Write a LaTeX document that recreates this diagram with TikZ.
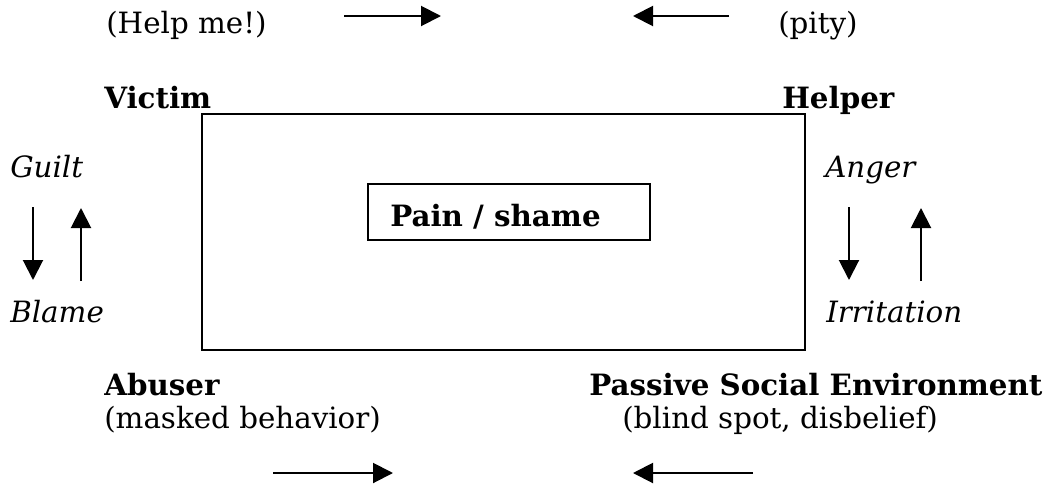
\documentclass[tikz,border=0pt]{standalone}
\usepackage{fontspec}
\setmainfont{DejaVu Serif}
\usetikzlibrary{arrows.meta,positioning}
\newcommand{\dsize}{\fontsize{22}{26}\selectfont}

\begin{document}
\begin{tikzpicture}[x=0.75pt,y=-0.75pt,
  lbl/.style={anchor=base west,inner sep=0pt,font=\dsize},
  role/.style={lbl,font=\dsize\bfseries},
  feel/.style={lbl,font=\dsize\itshape},
  arr/.style={-{Triangle[length=15pt,width=15pt]},line width=1.5pt}]
  \useasboundingbox (0,0) rectangle (1047,483);

  % drama triangle frame
  \draw[line width=1.2pt] (202,114) rectangle (805,350);
  \node[draw,line width=1.2pt,minimum width=211.5pt,minimum height=42pt,inner sep=0pt] (core) at (509,212) {};
  \node[role] (pain) at (390,226) {Pain / shame};

  % roles
  \node[lbl] (help) at (106,33) {(Help me!)};
  \node[lbl] (pity) at (778,33) {(pity)};
  \node[role] (victim) at (104,108) {Victim};
  \node[role] (helper) at (782,108) {Helper};
  \node[role] (abuser) at (104,395) {Abuser};
  \node[lbl] (masked) at (104,428) {(masked behavior)};
  \node[role] (passive) at (589,395) {Passive Social Environment};
  \node[lbl] (blind) at (622,428) {(blind spot, disbelief)};

  % feelings
  \node[feel] (guilt) at (10,177) {Guilt};
  \node[feel] (blame) at (10,322) {Blame};
  \node[feel] (anger) at (825,177) {Anger};
  \node[feel] (irrit) at (826,322) {Irritation};

  % arrows
  \coordinate (t1) at (344,16);  \coordinate (t2) at (441,16);
  \coordinate (t3) at (729,16);  \coordinate (t4) at (633,16);
  \coordinate (b1) at (273,473); \coordinate (b2) at (393,473);
  \coordinate (b3) at (753,473); \coordinate (b4) at (633,473);
  \draw[arr] (t1) -- (t2);
  \draw[arr] (t3) -- (t4);
  \draw[arr] (b1) -- (b2);
  \draw[arr] (b3) -- (b4);

  \coordinate (l1) at (33,207);  \coordinate (l2) at (33,280);
  \coordinate (l3) at (81,281);  \coordinate (l4) at (81,208);
  \coordinate (r1) at (849,207); \coordinate (r2) at (849,280);
  \coordinate (r3) at (921,281); \coordinate (r4) at (921,208);
  \draw[arr] (l1) -- (l2);
  \draw[arr] (l3) -- (l4);
  \draw[arr] (r1) -- (r2);
  \draw[arr] (r3) -- (r4);
\end{tikzpicture}
\end{document}
